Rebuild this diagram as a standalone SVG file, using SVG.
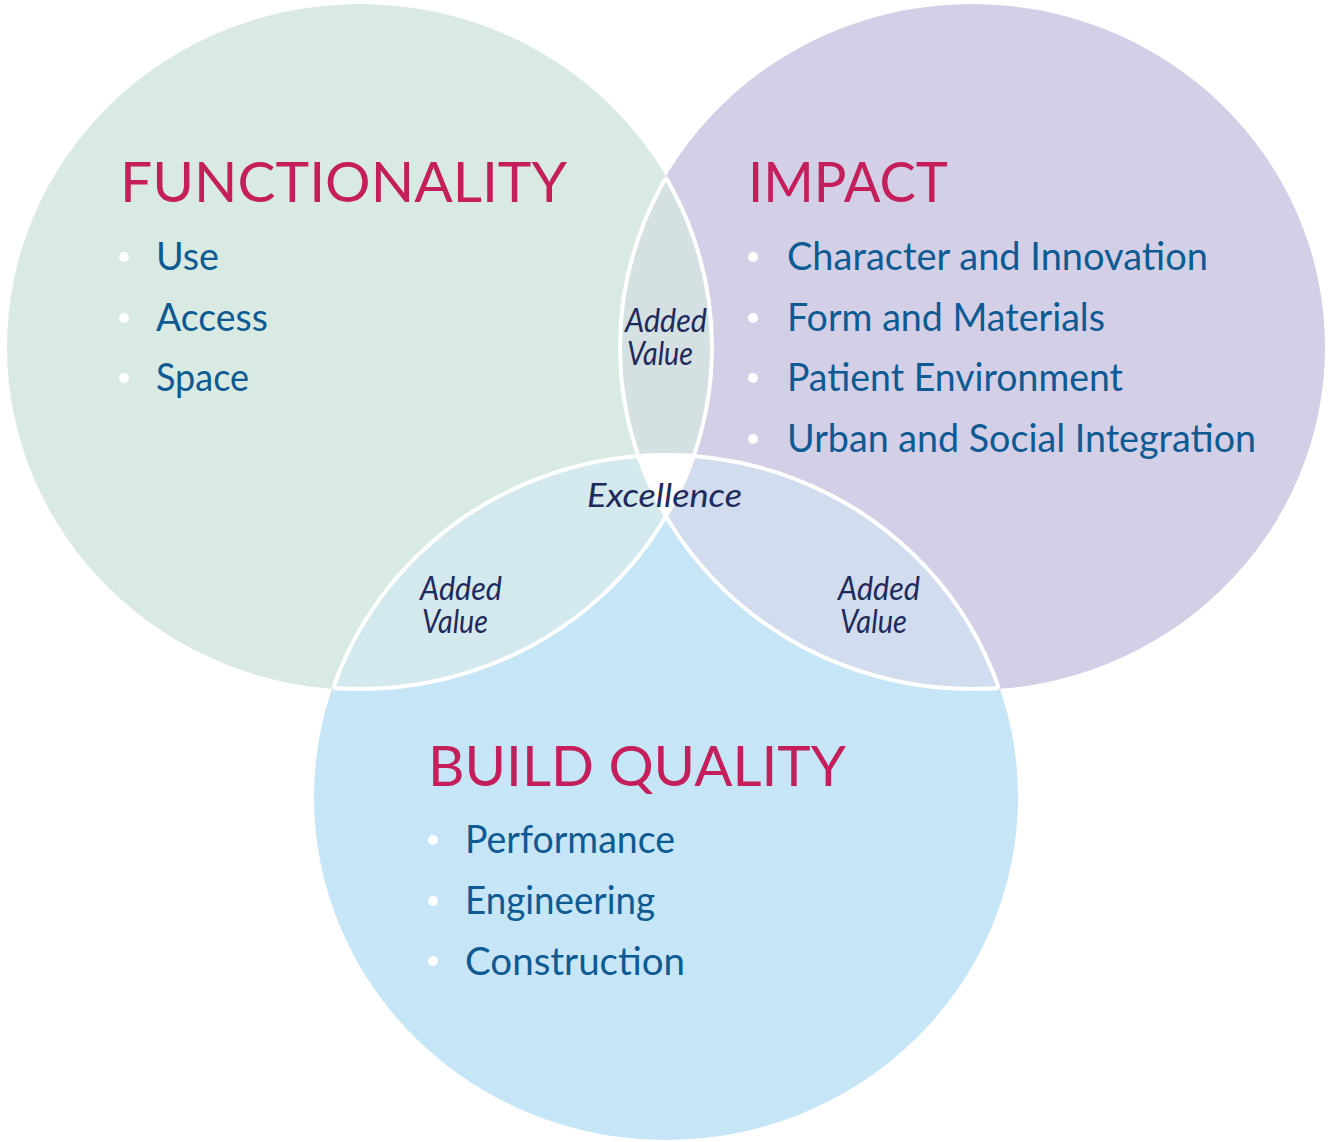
<svg xmlns="http://www.w3.org/2000/svg" width="1330" height="1142" viewBox="0 0 1330 1142">
<style>
.hdr{font-family:Lato,"Open Sans","Liberation Sans",sans-serif;font-size:56px;fill:#c41f5b}
.item{font-family:Lato,"Open Sans","Liberation Sans",sans-serif;font-size:38px;fill:#0e5a92}
.lbl{font-family:Lato,"Open Sans","Liberation Sans",sans-serif;font-size:33px;font-style:italic;fill:#1f2a5c}
.dot{fill:#ffffff}
.edge{fill:none;stroke:#ffffff;stroke-width:4}
</style>
<defs>
<clipPath id="cF"><ellipse cx="360" cy="347" rx="352" ry="342"/></clipPath>
<clipPath id="cI"><ellipse cx="972" cy="347" rx="352" ry="342"/></clipPath>
<clipPath id="cB"><ellipse cx="666" cy="797" rx="351" ry="342"/></clipPath>
</defs>
<rect width="1330" height="1142" fill="#ffffff"/>
<g id="circles">
<ellipse id="functionality-circle" cx="360" cy="347" rx="353" ry="343" fill="#d9eae2"/>
<ellipse id="impact-circle" cx="972" cy="347" rx="353" ry="343" fill="#d2cfe7"/>
<ellipse id="build-circle" cx="666" cy="797" rx="352" ry="343" fill="#c6e5f7"/>
<ellipse cx="972" cy="347" rx="352" ry="342" fill="#d4e0e1" clip-path="url(#cF)"/>
<ellipse cx="666" cy="797" rx="351" ry="342" fill="#d3e9ee" clip-path="url(#cF)"/>
<ellipse cx="666" cy="797" rx="351" ry="342" fill="#d1dcee" clip-path="url(#cI)"/>
<g clip-path="url(#cF)"><ellipse cx="666" cy="797" rx="351" ry="342" fill="#ffffff" clip-path="url(#cI)"/></g>
</g>
<g id="connectors">
<g clip-path="url(#cB)"><ellipse class="edge" cx="360" cy="347" rx="352" ry="342"/><ellipse class="edge" cx="972" cy="347" rx="352" ry="342"/></g>
<g clip-path="url(#cI)"><ellipse class="edge" cx="360" cy="347" rx="352" ry="342"/><ellipse class="edge" cx="666" cy="797" rx="351" ry="342"/></g>
<g clip-path="url(#cF)"><ellipse class="edge" cx="972" cy="347" rx="352" ry="342"/><ellipse class="edge" cx="666" cy="797" rx="351" ry="342"/></g>
</g>
<g id="functionality">
<text class="hdr" x="120" y="202" textLength="447" lengthAdjust="spacingAndGlyphs">FUNCTIONALITY</text>
<circle class="dot" cx="124" cy="257" r="5"/><text class="item" x="156" y="270" textLength="63" lengthAdjust="spacingAndGlyphs">Use</text>
<circle class="dot" cx="124" cy="318" r="5"/><text class="item" x="156" y="331" textLength="112" lengthAdjust="spacingAndGlyphs">Access</text>
<circle class="dot" cx="124" cy="378" r="5"/><text class="item" x="156" y="391" textLength="93" lengthAdjust="spacingAndGlyphs">Space</text>
</g>
<g id="impact">
<text class="hdr" x="748" y="202" textLength="200" lengthAdjust="spacingAndGlyphs">IMPACT</text>
<circle class="dot" cx="753" cy="257" r="5"/><text class="item" x="787" y="270" textLength="421" lengthAdjust="spacingAndGlyphs">Character and Innovation</text>
<circle class="dot" cx="753" cy="318" r="5"/><text class="item" x="787" y="331" textLength="318" lengthAdjust="spacingAndGlyphs">Form and Materials</text>
<circle class="dot" cx="753" cy="378" r="5"/><text class="item" x="787" y="391" textLength="336" lengthAdjust="spacingAndGlyphs">Patient Environment</text>
<circle class="dot" cx="753" cy="439" r="5"/><text class="item" x="787" y="452" textLength="469" lengthAdjust="spacingAndGlyphs">Urban and Social Integration</text>
</g>
<g id="build-quality">
<text class="hdr" x="428" y="786" textLength="418" lengthAdjust="spacingAndGlyphs">BUILD QUALITY</text>
<circle class="dot" cx="433" cy="840" r="5"/><text class="item" x="465" y="853" textLength="210" lengthAdjust="spacingAndGlyphs">Performance</text>
<circle class="dot" cx="433" cy="901" r="5"/><text class="item" x="465" y="914" textLength="190" lengthAdjust="spacingAndGlyphs">Engineering</text>
<circle class="dot" cx="433" cy="961" r="5"/><text class="item" x="465" y="975" textLength="220" lengthAdjust="spacingAndGlyphs">Construction</text>
</g>
<g id="added-value-top">
<text class="lbl" x="625" y="332" textLength="82" lengthAdjust="spacingAndGlyphs">Added</text>
<text class="lbl" x="627" y="365" textLength="66" lengthAdjust="spacingAndGlyphs">Value</text>
</g>
<g id="excellence">
<text class="lbl" x="587" y="507" textLength="155" lengthAdjust="spacingAndGlyphs">Excellence</text>
</g>
<g id="added-value-left">
<text class="lbl" x="420" y="600" textLength="82" lengthAdjust="spacingAndGlyphs">Added</text>
<text class="lbl" x="422" y="633" textLength="66" lengthAdjust="spacingAndGlyphs">Value</text>
</g>
<g id="added-value-right">
<text class="lbl" x="838" y="600" textLength="82" lengthAdjust="spacingAndGlyphs">Added</text>
<text class="lbl" x="840" y="633" textLength="67" lengthAdjust="spacingAndGlyphs">Value</text>
</g>
</svg>
